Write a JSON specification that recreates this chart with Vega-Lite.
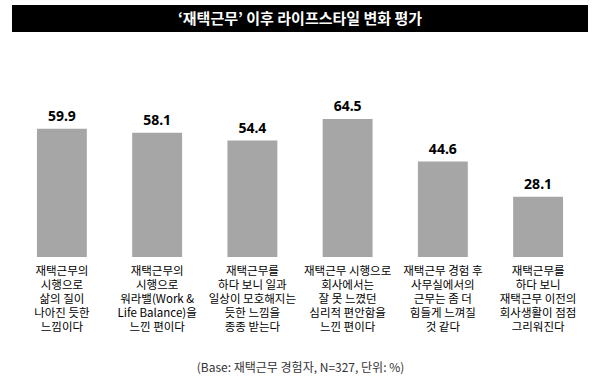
{
  "$schema": "https://vega.github.io/schema/vega-lite/v6.json",
  "padding": {"left": 12, "top": 5, "right": 12, "bottom": 0},
  "background": "white",
  "spacing": 11,
  "config": {"view": {"stroke": null}, "font": "Noto Sans CJK KR"},
  "vconcat": [
    {
      "width": 576,
      "height": 27,
      "view": {"fill": "black", "stroke": null},
      "data": {"values": [{"title": "‘재택근무’ 이후 라이프스타일 변화 평가"}]},
      "mark": {"type": "text", "color": "white", "fontSize": 15, "fontWeight": "bold", "font": "Noto Sans CJK KR", "baseline": "middle", "align": "center"},
      "encoding": {"text": {"field": "title"}}
    },
    {
      "width": 576,
      "height": 214,
      "data": {"values": [
        {"item": "재택근무의\n시행으로\n삶의 질이\n나아진 듯한\n느낌이다", "value": 59.9},
        {"item": "재택근무의\n시행으로\n워라밸(Work &\nLife Balance)을\n느낀 편이다", "value": 58.1},
        {"item": "재택근무를\n하다 보니 일과\n일상이 모호해지는\n듯한 느낌을\n종종 받는다", "value": 54.4},
        {"item": "재택근무 시행으로\n회사에서는\n잘 못 느꼈던\n심리적 편안함을\n느낀 편이다", "value": 64.5},
        {"item": "재택근무 경험 후\n사무실에서의\n근무는 좀 더\n힘들게 느껴질\n것 같다", "value": 44.6},
        {"item": "재택근무를\n하다 보니\n재택근무 이전의\n회사생활이 점점\n그리워진다", "value": 28.1}
      ]},
      "encoding": {
        "x": {
          "field": "item", "type": "nominal", "sort": null,
          "scale": {"paddingInner": 0.476, "paddingOuter": 0.262},
          "axis": {
            "title": "(Base: 재택근무 경험자, N=327, 단위: %)",
            "titleFontSize": 12, "titleFontWeight": "normal", "titleColor": "#333333",
            "titlePadding": 30,
            "labelAngle": 0, "labelExpr": "split(datum.label, '\\n')",
            "labelFontSize": 11.5, "labelLineHeight": 14, "labelColor": "black",
            "labelPadding": 8, "labelLimit": 0,
            "domain": false, "ticks": false
          }
        },
        "y": {"field": "value", "type": "quantitative", "scale": {"domain": [0, 100]}, "axis": null}
      },
      "layer": [
        {"mark": {"type": "bar", "color": "#a6a6a6"}},
        {
          "mark": {"type": "text", "baseline": "bottom", "dy": -5, "fontSize": 14, "fontWeight": "bold", "font": "Noto Sans", "color": "black"},
          "encoding": {"text": {"field": "value", "type": "quantitative", "format": ".1f"}}
        }
      ]
    }
  ]
}
